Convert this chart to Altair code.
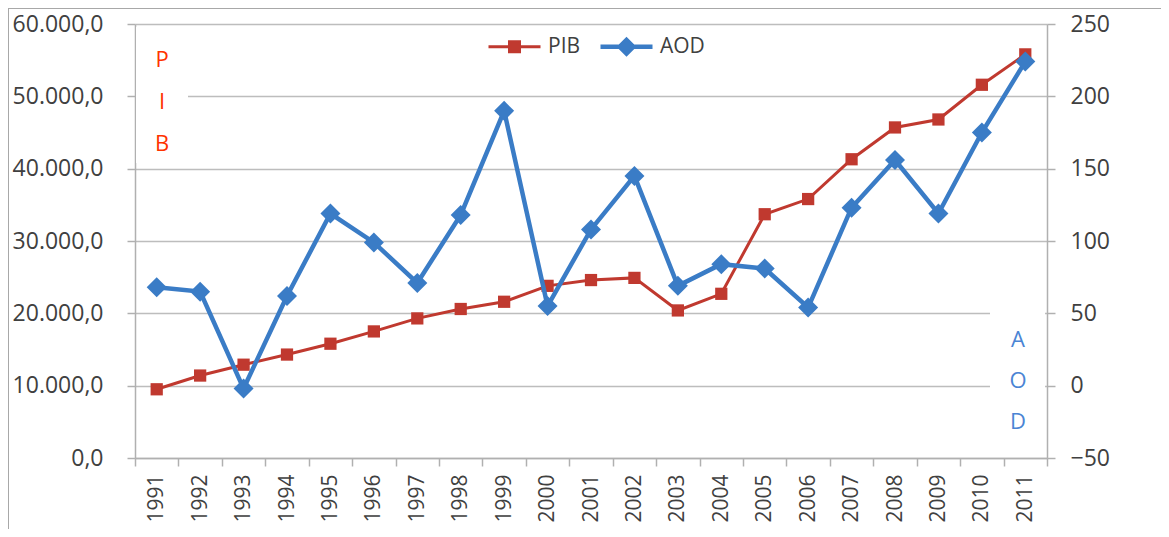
import altair as alt
import pandas as pd

years = ["1991", "1992", "1993", "1994", "1995", "1996", "1997", "1998", "1999", "2000",
         "2001", "2002", "2003", "2004", "2005", "2006", "2007", "2008", "2009", "2010", "2011"]
pib = [9500, 11400, 12900, 14300, 15800, 17500, 19300, 20600, 21600, 23800,
       24600, 24900, 20400, 22700, 33700, 35800, 41300, 45700, 46800, 51600, 55800]
aod = [68, 65, -2, 62, 119, 99, 71, 118, 190, 55,
       108, 145, 69, 84, 81, 54, 123, 156, 119, 175, 224]
series = ["PIB", "AOD"]
series_colors = ["#C0392F", "#3A7CC6"]

df = pd.DataFrame({"year": years, "PIB": pib, "AOD": aod})
one = pd.DataFrame({"k": [0]})

FONT = "Open Sans"
LABEL_COLOR = "#404040"
GRID = "#bdbdbd"
AXIS_LINE = "#b0b0b0"

x_enc = alt.X(
    "year:O",
    sort=years,
    scale=alt.Scale(type="band", paddingInner=0, paddingOuter=0),
    axis=alt.Axis(
        title=None, labelAngle=270, tickBand="extent", tickSize=8,
        tickColor=AXIS_LINE, domainColor=AXIS_LINE, domainWidth=1.5, tickWidth=1.5,
        labelFont=FONT, labelFontSize=21, labelColor=LABEL_COLOR, labelPadding=8,
        grid=False,
    ),
)

left_expr = ("replace(replace(replace(format(datum.value, ',.1f'), ',', '_'), '.', ','), '_', '.')")

y_pib = alt.Y(
    "PIB:Q",
    scale=alt.Scale(domain=[0, 60000], nice=False),
    axis=alt.Axis(
        title=None, values=[0, 10000, 20000, 30000, 40000, 50000, 60000],
        labelExpr=left_expr, grid=True, gridColor=GRID, gridWidth=1.5,
        tickSize=8, tickColor=AXIS_LINE, tickWidth=1.5,
        domainColor=AXIS_LINE, domainWidth=1.5,
        labelFont=FONT, labelFontSize=23, labelColor=LABEL_COLOR, labelPadding=24,
    ),
)

y_aod = alt.Y(
    "AOD:Q",
    scale=alt.Scale(domain=[-50, 250], nice=False),
    axis=alt.Axis(
        title=None, orient="right", values=[-50, 0, 50, 100, 150, 200, 250],
        grid=False, tickSize=8, tickColor=AXIS_LINE, tickWidth=1.5,
        domainColor=AXIS_LINE, domainWidth=1.5,
        labelFont=FONT, labelFontSize=23, labelColor=LABEL_COLOR, labelPadding=15,
    ),
)

base = alt.Chart(df)
deco = alt.Chart(one)

pib_line = base.mark_line(color=series_colors[0], strokeWidth=3).encode(x=x_enc, y=y_pib)
pib_pts = base.mark_point(shape="square", filled=True, size=150, opacity=1,
                          color=series_colors[0]).encode(x=x_enc, y=y_pib)

# white boxes behind the vertical annotations
pib_box = deco.mark_rect(color="white").encode(
    x=alt.value(1), x2=alt.value(53), y=alt.value(3), y2=alt.value(139))
pib_text = deco.mark_text(
    text="P\nI\nB", lineBreak="\n", lineHeight=42, font=FONT, fontSize=22,
    fontWeight="normal", color="#FF3300", align="center", baseline="middle",
).encode(x=alt.value(27), y=alt.value(36))

pib_layer = alt.layer(pib_box, pib_text, pib_line, pib_pts)

aod_box = deco.mark_rect(color="white").encode(
    x=alt.value(855), x2=alt.value(910), y=alt.value(281), y2=alt.value(428))
aod_text = deco.mark_text(
    text="A\nO\nD", lineBreak="\n", lineHeight=41, font=FONT, fontSize=22,
    fontWeight="normal", color="#4A84D4", align="center", baseline="middle",
).encode(x=alt.value(883), y=alt.value(316))
aod_line = base.mark_line(color=series_colors[1], strokeWidth=4.5).encode(x=x_enc, y=y_aod)
aod_pts = base.mark_point(shape="diamond", filled=True, size=400, opacity=1,
                          color=series_colors[1]).encode(x=x_enc, y=y_aod)

aod_layer = alt.layer(aod_box, aod_text, aod_line, aod_pts)

# legend (from an empty layer with explicit domains)
leg_df = pd.DataFrame({"serie": series})
sym_paths = [
    "M-2.6,-0.15H2.6V0.15H-2.6Z M-0.65,-0.65H0.65V0.65H-0.65Z",
    "M-2.6,-0.22H2.6V0.22H-2.6Z M0,-1L1,0L0,1L-1,0Z",
]
legend_layer = alt.Chart(leg_df).transform_filter("false").mark_point(
    filled=True, size=400, opacity=1
).encode(
    color=alt.Color("serie:N", scale=alt.Scale(domain=series, range=series_colors),
                    legend=alt.Legend(
                        title=None, orient="none", direction="horizontal",
                        legendX=369, legendY=12, symbolSize=400, symbolStrokeWidth=0,
                        labelOffset=23, columnPadding=19, padding=0,
                        labelFont=FONT, labelFontSize=21, labelColor=LABEL_COLOR,
                        symbolOpacity=1,
                    )),
    shape=alt.Shape("serie:N", scale=alt.Scale(domain=series, range=sym_paths)),
)

border = deco.mark_rect(fillOpacity=0, stroke="#a8a8a8", strokeWidth=2).encode(
    x=alt.value(-127), x2=alt.value(1045), y=alt.value(-16), y2=alt.value(512))

chart = alt.layer(border, pib_layer, aod_layer, legend_layer).resolve_scale(
    y="independent"
).properties(
    width=912, height=434,
    padding={"left": 127, "top": 16, "right": 114, "bottom": 71},
    autosize=alt.AutoSizeParams(type="none"),
    background="white",
).configure_view(strokeWidth=0)

chart.save("out.html", embed_options={"renderer": "svg", "actions": False})
